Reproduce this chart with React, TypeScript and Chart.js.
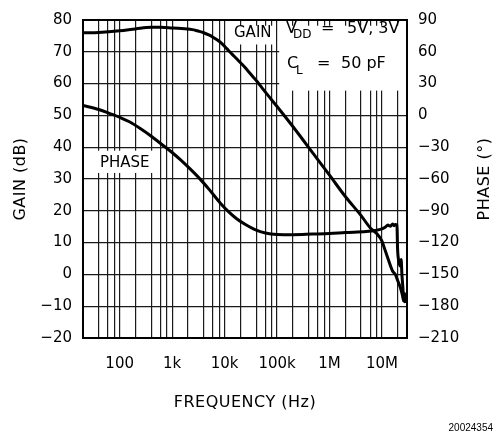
import React, { useEffect, useRef } from "react";
import { Chart, registerables } from "chart.js";

Chart.register(...registerables);

// ---- data ----
const gainFreq = [20, 40, 100, 200, 400, 600, 1000, 1500, 2600, 3000, 4000, 5000, 6000, 7300, 9000, 1.1e4, 1.4e4, 1.7e4, 2.2e4, 2.7e4, 3.5e4, 4.2e4, 5.5e4, 6.5e4, 1e5, 2e5, 5e5, 1e6, 2e6, 4e6, 6e6, 8e6, 1e7, 1.1e7, 1.3e7, 1.6e7, 1.8e7, 2e7, 2.25e7, 2.45e7, 2.6e7, 2.7e7, 2.8e7];
const gainDb = [76.0, 76.1, 76.6, 77.2, 77.7, 77.7, 77.5, 77.3, 76.9, 76.6, 76.0, 75.3, 74.6, 73.7, 72.5, 71.0, 69.2, 67.8, 65.9, 64.3, 62.1, 60.6, 58.1, 56.6, 52.8, 46.5, 37.8, 31.2, 24.5, 18.5, 14.6, 12.8, 10.5, 8.5, 5.0, 1.0, 0.0, -2.0, -4.2, -6.5, -8.3, -7.5, -9.0];

const phaseFreq = [20, 40, 67, 104, 150, 251, 400, 603, 1000, 1450, 2200, 3490, 5200, 8400, 1.2e4, 1.7e4, 2.5e4, 3.8e4, 6e4, 1e5, 2e5, 4.7e5, 1e6, 2e6, 5e6, 7.5e6, 1e7, 1.15e7, 1.3e7, 1.45e7, 1.6e7, 1.7e7, 1.8e7, 1.93e7, 1.98e7, 2.1e7, 2.25e7, 2.32e7, 2.4e7, 2.5e7, 2.6e7, 2.7e7, 2.8e7];
const phaseDeg = [9.4, 5.6, 1.5, -2.2, -5.8, -12.6, -19.6, -26.5, -35, -42, -50.5, -60.6, -70.5, -83, -91, -97.5, -103, -107.8, -111, -112.3, -112.5, -112, -111.5, -110.5, -109.5, -108.5, -107, -105.5, -103.5, -104.5, -102.5, -104, -103, -103.5, -125, -138, -142, -136, -150, -162, -175, -168, -172];

// ---- axes ----
const xGridValues = [20, 40, 60, 80, 100, 200, 400, 600, 800, 1e3, 2e3, 4e3, 6e3, 8e3, 1e4, 2e4, 4e4, 6e4, 8e4, 1e5, 2e5, 4e5, 6e5, 8e5, 1e6, 2e6, 4e6, 6e6, 8e6, 1e7, 2e7];
const xLabelValues = [100, 1e3, 1e4, 1e5, 1e6, 1e7];
const xLabelTexts = ["100", "1k", "10k", "100k", "1M", "10M"];
const gainTicks = [-20, -10, 0, 10, 20, 30, 40, 50, 60, 70, 80];
const phaseTicks = [-210, -180, -150, -120, -90, -60, -30, 0, 30, 60, 90];

const FONT = '"DejaVu Sans", sans-serif';
const fmt = (v: number) => (v < 0 ? "\u2212" + Math.abs(v) : String(v));

const overlay = {
  id: "overlay",
  beforeDatasetsDraw(chart: any) {
    const { ctx, chartArea: a, scales } = chart;
    const x = scales.x;
    const y = scales.y;
    ctx.save();
    ctx.fillStyle = "#fff";
    const box = (f1: number, f2: number, g1: number, g2: number) => {
      const l = x.getPixelForValue(f1);
      const r = Math.min(x.getPixelForValue(f2), a.right - 1);
      const t = y.getPixelForValue(g1);
      const b = y.getPixelForValue(g2);
      ctx.fillRect(l, t, r - l, b - t);
    };
    box(1.4e4, 8.5e4, 78.2, 72.3);
    box(1.1e5, 4e7, 78.2, 57.8);
    box(37, 480, 38.9, 31.9);
    ctx.strokeStyle = "#000";
    ctx.lineWidth = 2;
    ctx.strokeRect(a.left, a.top, a.width, a.height);
    ctx.restore();
  },
  afterDraw(chart: any) {
    const { ctx, chartArea: a } = chart;
    ctx.save();
    ctx.fillStyle = "#000";
    ctx.textBaseline = "alphabetic";
    ctx.textAlign = "left";
    ctx.font = "15px " + FONT;
    ctx.fillText("GAIN", 234, 36.5);
    ctx.fillText("PHASE", 100, 166.5);
    // legend
    ctx.font = "16px " + FONT;
    ctx.fillText("V", 286, 33);
    ctx.fillText("=", 321, 33);
    ctx.fillText("5V, 3V", 347, 33);
    ctx.fillText("C", 287, 68);
    ctx.fillText("=", 317, 68);
    ctx.fillText("50 pF", 341, 68);
    ctx.font = "12px " + FONT;
    ctx.fillText("DD", 293, 38);
    ctx.fillText("L", 296, 74);
    ctx.restore();

    // axis titles
    ctx.save();
    ctx.fillStyle = "#000";
    ctx.font = "16px " + FONT;
    (ctx as any).letterSpacing = "0.5px";
    ctx.textAlign = "center";
    ctx.textBaseline = "middle";
    const cx = (a.left + a.right) / 2;
    const cy = (a.top + a.bottom) / 2;
    ctx.fillText("FREQUENCY (Hz)", cx, 403);
    ctx.save();
    ctx.translate(21, cy);
    ctx.rotate(-Math.PI / 2);
    ctx.fillText("GAIN (dB)", 0, 0);
    ctx.restore();
    ctx.save();
    ctx.translate(485, cy);
    ctx.rotate(-Math.PI / 2);
    ctx.fillText("PHASE (\u00b0)", 0, 0);
    ctx.restore();
    ctx.restore();

    ctx.save();
    ctx.fillStyle = "#000";
    ctx.font = '10px "Liberation Sans", sans-serif';
    ctx.textAlign = "right";
    ctx.textBaseline = "alphabetic";
    ctx.fillText("20024354", 493, 431);
    ctx.restore();
  },
};

export default function App() {
  const ref = useRef<HTMLCanvasElement | null>(null);
  useEffect(() => {
    if (!ref.current) return;
    const gridStyle = { color: "#1a1a1a", lineWidth: 1.2, drawTicks: false };
    const tickFont = { family: FONT, size: 15 };
    const chart = new Chart(ref.current, {
      type: "line",
      data: {
        datasets: [
          {
            label: "GAIN",
            data: gainFreq.map((f, i) => ({ x: f, y: gainDb[i] })),
            borderColor: "#000",
            borderWidth: 3,
            pointRadius: 0,
            cubicInterpolationMode: "monotone",
            yAxisID: "y",
          },
          {
            label: "PHASE",
            data: phaseFreq.map((f, i) => ({ x: f, y: phaseDeg[i] })),
            borderColor: "#000",
            borderWidth: 3,
            pointRadius: 0,
            cubicInterpolationMode: "monotone",
            yAxisID: "y2",
          },
        ],
      },
      options: {
        animation: false,
        responsive: false,
        events: [],
        layout: { padding: { top: 14, left: 0, right: 0, bottom: 0 } },
        plugins: { legend: { display: false }, tooltip: { enabled: false } },
        scales: {
          x: {
            type: "logarithmic",
            min: 20,
            max: 3e7,
            afterBuildTicks: (s: any) => {
              s.ticks = xGridValues.map((v) => ({ value: v }));
            },
            afterFit: (s: any) => {
              s.height = 93;
            },
            ticks: {
              autoSkip: false,
              maxRotation: 0,
              padding: 17,
              color: "#000",
              font: tickFont,
              callback: (v: any) => {
                const i = xLabelValues.indexOf(Number(v));
                return i >= 0 ? xLabelTexts[i] : "";
              },
            },
            grid: gridStyle,
            border: { display: false },
          },
          y: {
            position: "left",
            min: -20,
            max: 80,
            afterBuildTicks: (s: any) => {
              s.ticks = gainTicks.map((v) => ({ value: v }));
            },
            afterFit: (s: any) => {
              s.width = 83;
            },
            ticks: {
              padding: 11,
              color: "#000",
              font: tickFont,
              callback: (v: any) => fmt(Number(v)),
            },
            grid: gridStyle,
            border: { display: false },
          },
          y2: {
            position: "right",
            min: -210,
            max: 90,
            afterBuildTicks: (s: any) => {
              s.ticks = phaseTicks.map((v) => ({ value: v }));
            },
            afterFit: (s: any) => {
              s.width = 88;
            },
            ticks: {
              padding: 11,
              color: "#000",
              font: tickFont,
              callback: (v: any) => fmt(Number(v)),
            },
            grid: { display: false, drawTicks: false },
            border: { display: false },
          },
        },
      } as any,
      plugins: [overlay],
    });
    return () => chart.destroy();
  }, []);
  return (
    <div style={{ position: "absolute", left: 0, top: 0, width: 495, height: 431, background: "#fff" }}>
      <canvas ref={ref} width={495} height={431} style={{ display: "block" }} />
    </div>
  );
}
